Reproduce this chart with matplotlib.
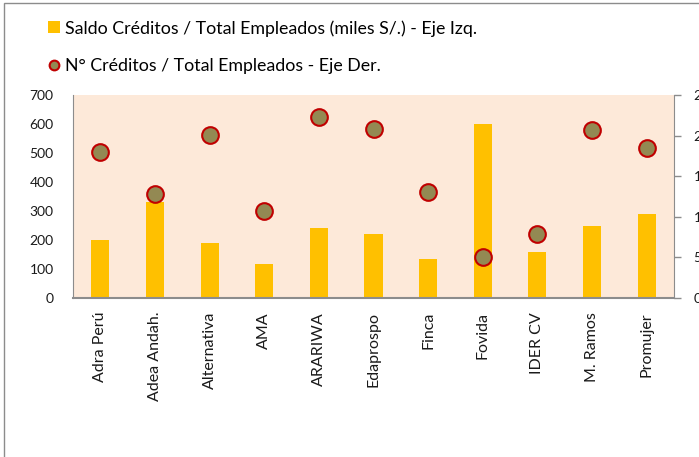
import matplotlib
matplotlib.use("Agg")
import matplotlib.pyplot as plt
from matplotlib.patches import Rectangle, Patch
from matplotlib.lines import Line2D

categories = ["Adra Perú", "Adea Andah.", "Alternativa", "AMA", "ARARIWA", "Edaprospo",
              "Finca", "Fovida", "IDER CV", "M. Ramos", "Promujer"]
saldo = [200, 331, 189, 117, 240, 221, 134, 600, 158, 250, 290]
n_creditos = [180, 128, 201, 107, 223, 208, 131, 50, 79, 207, 185]
left_ticks = [0, 100, 200, 300, 400, 500, 600, 700]
right_ticks = [0, 50, 100, 150, 200, 250]

label_bar = "Saldo Créditos / Total Empleados (miles S/.) - Eje Izq."
label_pts = "N° Créditos / Total Empleados - Eje Der."

W, H = 699, 457
fig = plt.figure(figsize=(W / 100, H / 100), dpi=100)
fig.patch.set_facecolor("white")

# outer chart border
fig.add_artist(Rectangle((4 / W, -0.01), 1.0, 1 - 3 / H + 0.01, transform=fig.transFigure,
                         fill=False, edgecolor="#8c8c8c", linewidth=1.0))

x0, x1, ytop, ybot = 73, 674, 95, 298
ax = fig.add_axes([x0 / W, 1 - ybot / H, (x1 - x0) / W, (ybot - ytop) / H])
ax.set_facecolor("#FDE9D9")
xs = list(range(len(categories)))
bars = ax.bar(xs, saldo, width=0.33, color="#FFC000", zorder=2)
ax.set_xlim(-0.5, len(categories) - 0.5)
ax.set_ylim(0, 700)
ax.set_yticks(left_ticks)
ax.set_xticks(xs)
ax.set_xticklabels(categories, rotation=90, fontsize=11.5, family="Lato", color="#1a1a1a")
for lab in ax.get_yticklabels():
    lab.set_fontfamily("Lato")
    lab.set_fontsize(10)
ax.tick_params(axis="x", length=0, pad=10)
ax.tick_params(axis="y", length=0, pad=14, colors="#1a1a1a")
for s in ["top", "right"]:
    ax.spines[s].set_visible(False)
ax.spines["left"].set_color("#8c8c8c")
ax.spines["bottom"].set_color("#8c8c8c")
ax.spines["bottom"].set_linewidth(1.5)

ax2 = ax.twinx()
pts, = ax2.plot(xs, n_creditos, linestyle="none", marker="o", markersize=12,
                markerfacecolor="#938953", markeredgecolor="#C00000", markeredgewidth=1.5, zorder=3)
ax2.set_ylim(0, 250)
ax2.set_yticks(right_ticks)
for s in ["top", "left", "bottom"]:
    ax2.spines[s].set_visible(False)
ax2.spines["right"].set_color("#8c8c8c")
ax2.tick_params(axis="y", length=5, width=1, color="#8c8c8c", pad=9, labelsize=10, labelcolor="#1a1a1a")
for lab in ax2.get_yticklabels():
    lab.set_fontfamily("Lato")

h1 = Patch(facecolor="#FFC000", edgecolor="none")
h2 = Line2D([], [], linestyle="none", marker="o", markersize=7, markerfacecolor="#938953",
            markeredgecolor="#C00000", markeredgewidth=1.5)
fig.legend([h1, h2], [label_bar, label_pts], loc="upper left", bbox_to_anchor=(48 / W, 1 - 20 / H),
           frameon=False, prop={"family": "Lato", "size": 12.8}, handlelength=0.65, handleheight=0.65,
           handletextpad=0.3, labelspacing=1.2, borderaxespad=0, borderpad=0)

fig.savefig("out.png", dpi=100)
